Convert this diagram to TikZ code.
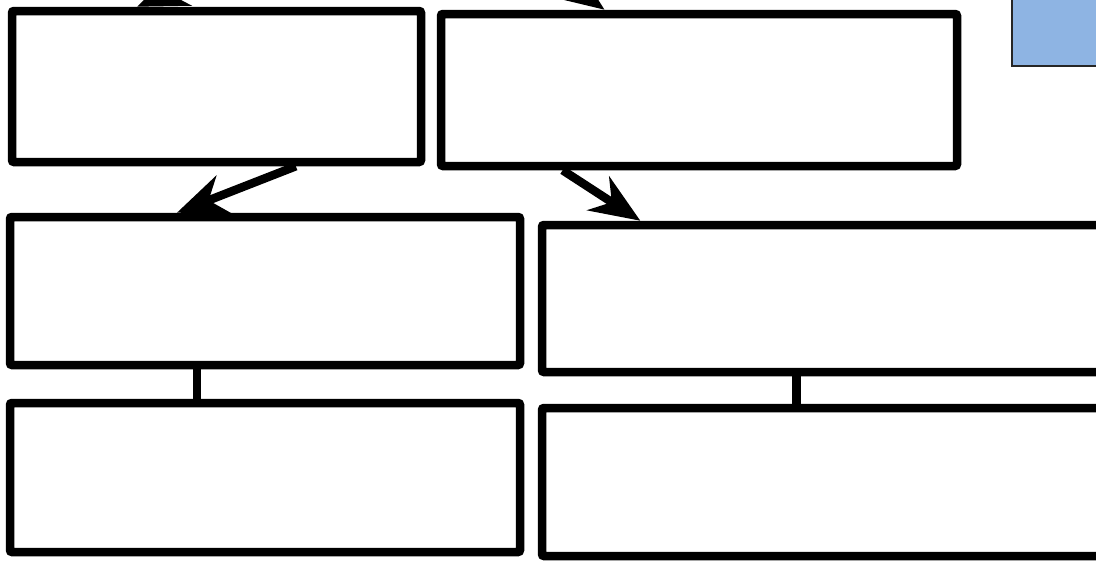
\documentclass[tikz,border=0pt]{standalone}
\usetikzlibrary{arrows.meta,calc}
\definecolor{boxblue}{HTML}{8EB4E3}
\tikzset{
  box/.style={draw=black, line width=8.5pt, rounded corners=2pt, fill=white,
    inner sep=0pt, rectangle},
  conn/.style={line width=8.5pt, draw=black},
  arr/.style={line width=8.5pt, draw=black,
    -{Stealth[length=50pt,width=40pt,inset=16pt]}},
}
\begin{document}
\begin{tikzpicture}[x=1pt,y=-1pt]
\useasboundingbox (0,0) rectangle (1096,562);
\begin{scope}
\clip (0,0) rectangle (1096,562);
\fill[white] (0,0) rectangle (1096,562);
% blue box (top right, partly outside)
\node[draw=black!85, line width=1.8pt, fill=boxblue, minimum width=120pt,
  minimum height=100pt, inner sep=0pt, anchor=south west] (blue) at (1011,67) {};
% boxes
\node[box, minimum width=409pt, minimum height=151pt] (A) at (216.5,86.5) {};
\node[box, minimum width=516pt, minimum height=152pt] (B) at (699,90) {};
\node[box, minimum width=510pt, minimum height=148pt] (C) at (265,291) {};
\node[box, minimum width=510pt, minimum height=149pt] (E) at (265,477.5) {};
\node[box, minimum width=568pt, minimum height=147pt] (D) at (826,298.5) {};
\node[box, minimum width=568pt, minimum height=148pt] (F) at (826,482) {};
% off-canvas sources
\coordinate (topL) at (254,-43);
\coordinate (topR) at (528,-45);
% arrows
\draw[arr] (topL) -- ($(A.north west)!0.31!(A.north east)$);
\draw[arr] (topR) -- ($(B.north west)!0.32!(B.north east)$);
\draw[arr] ($(A.south west)!0.69!(A.south east)$) -- ($(C.north west)!0.33!(C.north east)$);
\draw[arr] ($(B.south west)!0.24!(B.south east)$) -- ($(D.north west)!0.178!(D.north east)$);
% vertical connectors
\draw[conn] ($(C.south west)!0.369!(C.south east)$) -- ($(E.north west)!0.369!(E.north east)$);
\draw[conn] ($(D.south west)!0.449!(D.south east)$) -- ($(F.north west)!0.449!(F.north east)$);
\end{scope}
\end{tikzpicture}
\end{document}
